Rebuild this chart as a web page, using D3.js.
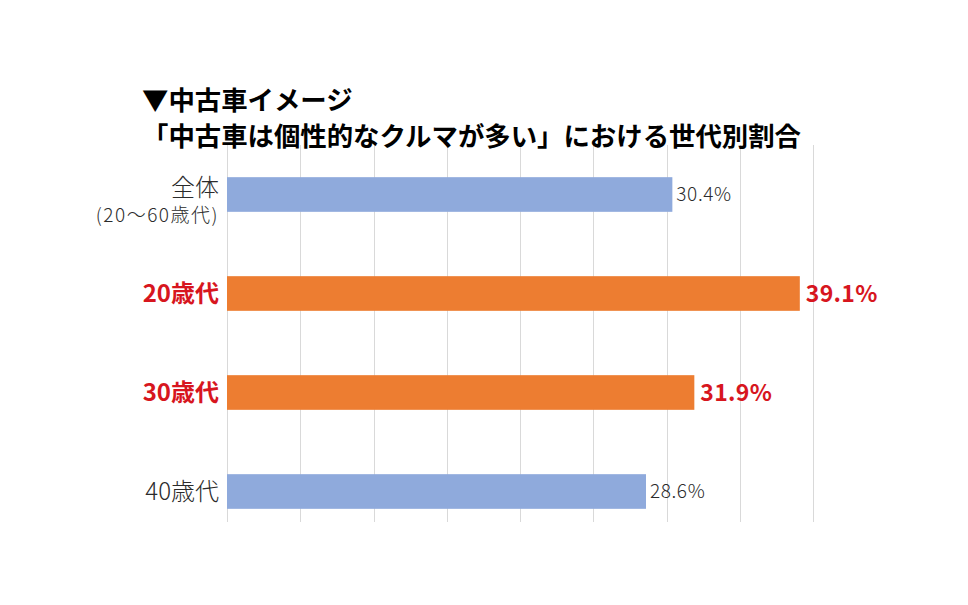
<!DOCTYPE html>
<html>
<head>
<meta charset="utf-8">
<script src="https://cdn.jsdelivr.net/npm/d3@7"></script>
<style>
  html, body { margin: 0; padding: 0; background: #fff; }
  svg { display: block; }
  text { font-family: "Noto Sans CJK JP", "Noto Sans", sans-serif; }
</style>
</head>
<body>
<svg id="chart" width="968" height="605"></svg>
<script>
const titleLines = ["▼中古車イメージ", "「中古車は個性的なクルマが多い」における世代別割合"];
const categories = ["全体", "20歳代", "30歳代", "40歳代"];
const subLabels = ["(20～60歳代)", "", "", ""];
const values = [30.4, 39.1, 31.9, 28.6];
const highlighted = [false, true, true, false];
const xTicks = [0, 5, 10, 15, 20, 25, 30, 35, 40];

const svg = d3.select("#chart");
const blue = "#8FAADC", orange = "#ED7D31", red = "#D7161E", dark = "#2b2b2b";

const x = d3.scaleLinear().domain([0, 40]).range([227, 813]);
const y = d3.scaleBand().domain(categories).range([145, 541]).paddingInner(0.65).paddingOuter(0.325);

// gridlines
svg.append("g").selectAll("line").data(xTicks).join("line")
  .attr("x1", d => Math.round(x(d)) + 0.5).attr("x2", d => Math.round(x(d)) + 0.5)
  .attr("y1", 145).attr("y2", 522)
  .attr("stroke", "#d9d9d9").attr("stroke-width", 1);

// title
svg.append("g").selectAll("text").data(titleLines).join("text")
  .attr("x", 142).attr("y", (d, i) => 110 + i * 36)
  .attr("font-size", 26.4).attr("font-weight", 700).attr("fill", "#000")
  .text(d => d);

const data = categories.map((c, i) => ({ c, v: values[i], h: highlighted[i], sub: subLabels[i] }));

// bars
svg.append("g").selectAll("rect").data(data).join("rect")
  .attr("x", x(0)).attr("y", d => y(d.c))
  .attr("width", d => x(d.v) - x(0)).attr("height", y.bandwidth())
  .attr("fill", d => d.h ? orange : blue);

// value labels
svg.append("g").selectAll("text").data(data).join("text")
  .attr("x", d => x(d.v) + (d.h ? 6 : 4))
  .attr("y", d => y(d.c) + y.bandwidth() / 2)
  .attr("dy", "0.36em")
  .attr("font-size", d => d.h ? 23 : 19)
  .attr("font-weight", d => d.h ? 700 : 300)
  .attr("letter-spacing", d => d.h ? 0.3 : 0.6)
  .attr("fill", d => d.h ? red : dark)
  .text(d => d.v.toFixed(1) + "%");

// category labels
const lab = svg.append("g").selectAll("g").data(data).join("g");
lab.append("text")
  .attr("x", 219)
  .attr("y", d => y(d.c) + y.bandwidth() / 2 + (d.sub ? -7 : 0))
  .attr("dy", "0.36em")
  .attr("text-anchor", "end")
  .attr("font-size", 24)
  .attr("font-weight", d => d.h ? 700 : 300)
  .attr("fill", d => d.h ? red : dark)
  .text(d => d.c);
lab.filter(d => d.sub).append("text")
  .attr("x", 219)
  .attr("y", d => y(d.c) + y.bandwidth() / 2 + 21)
  .attr("dy", "0.36em")
  .attr("text-anchor", "end")
  .attr("font-size", 19)
  .attr("font-weight", 300)
  .attr("letter-spacing", 1.5)
  .attr("fill", dark)
  .text(d => d.sub);
</script>
</body>
</html>
